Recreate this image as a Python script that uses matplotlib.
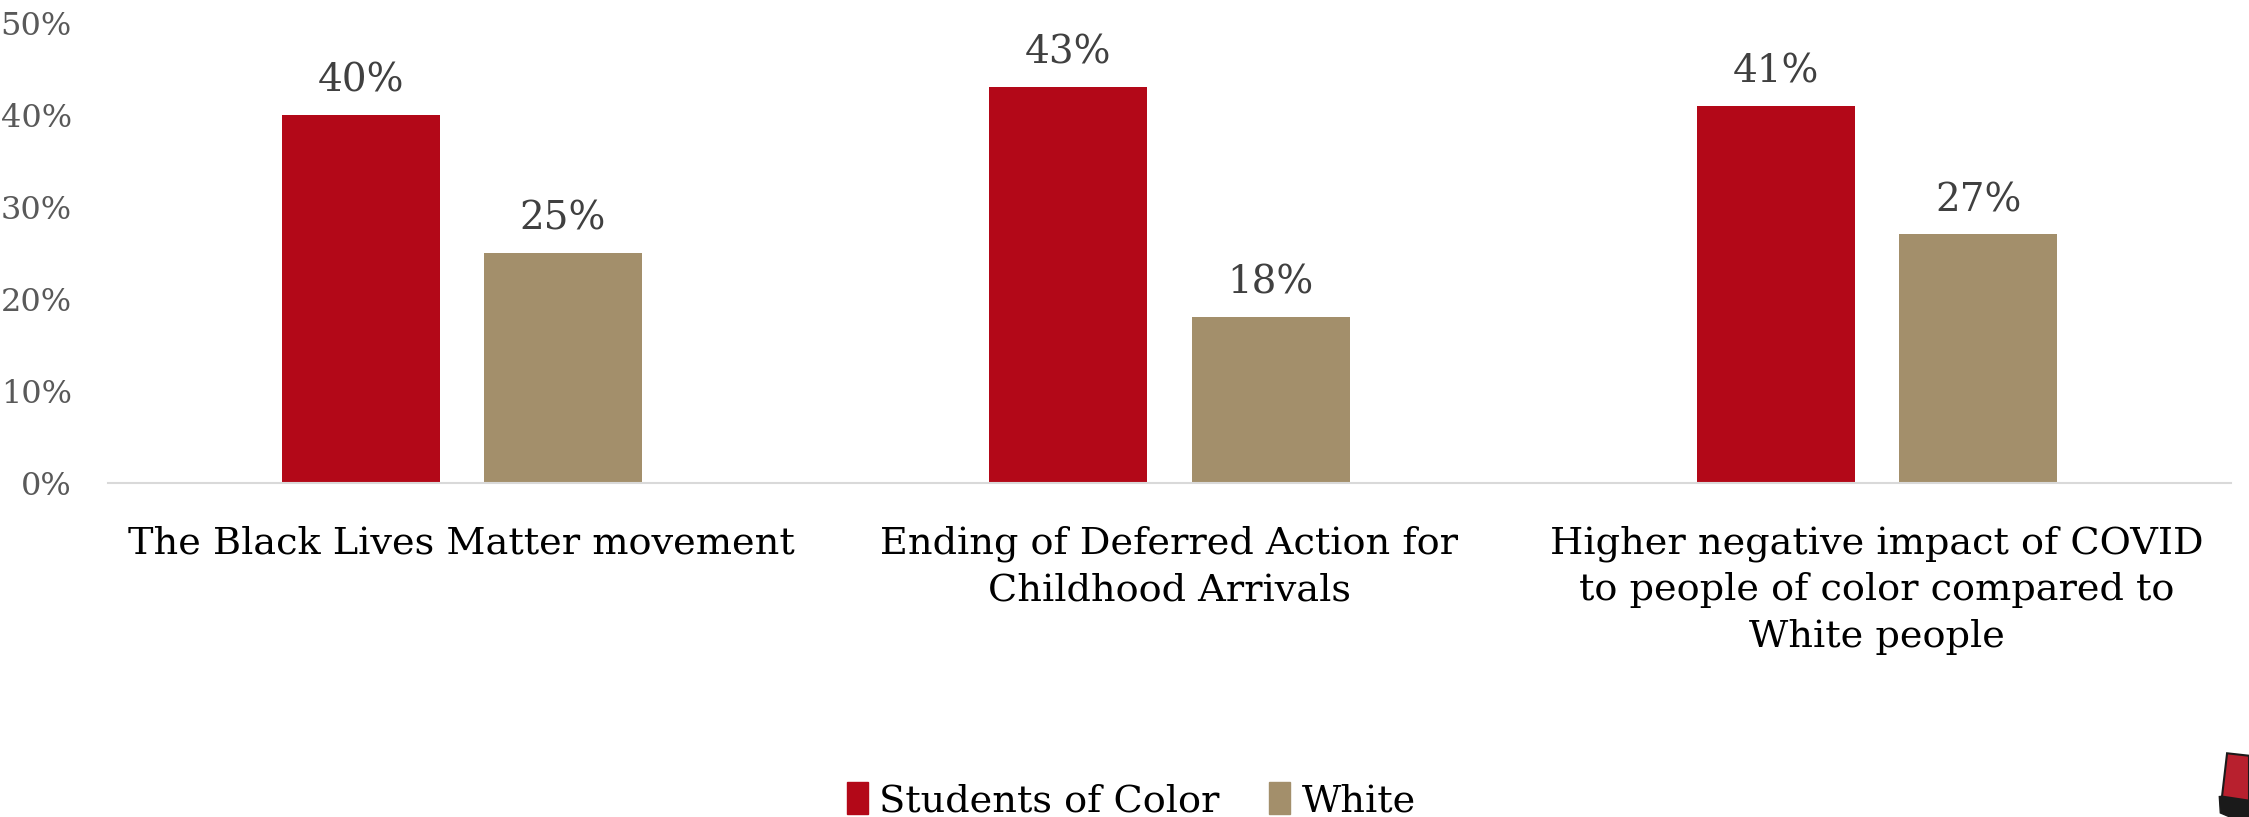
import matplotlib
matplotlib.use("Agg")
import matplotlib.pyplot as plt
import matplotlib.patches as mpatches
from matplotlib.ticker import FuncFormatter, MultipleLocator
import numpy as np

categories = [
    "The Black Lives Matter movement",
    "Ending of Deferred Action for\nChildhood Arrivals",
    "Higher negative impact of COVID\nto people of color compared to\nWhite people",
]
students_of_color = [40, 43, 41]
white = [25, 18, 27]
series_names = ["Students of Color", "White"]
colors = ["#B30818", "#A38F6B"]

plt.rcParams["font.family"] = ["DejaVu Serif"]

fig = plt.figure(figsize=(22.49, 8.17), dpi=100)
ax = fig.add_axes([0.048, 0.409, 0.944, 0.563])

x = np.arange(len(categories))
bw = 0.223
off = 0.143
bars1 = ax.bar(x - off, students_of_color, bw, color=colors[0], label=series_names[0])
bars2 = ax.bar(x + off, white, bw, color=colors[1], label=series_names[1])

for bars in (bars1, bars2):
    for b in bars:
        ax.annotate(f"{b.get_height():.0f}%",
                    (b.get_x() + b.get_width() / 2, b.get_height()),
                    xytext=(0, 11), textcoords="offset points",
                    ha="center", va="bottom", fontsize=28, color="#404040")

ax.set_xlim(-0.5, len(categories) - 0.5)
ax.set_ylim(0, 50)
ax.yaxis.set_major_locator(MultipleLocator(10))
ax.yaxis.set_major_formatter(FuncFormatter(lambda v, p: f"{v:.0f}%"))
ax.tick_params(axis="y", length=0, labelsize=23, labelcolor="#595959", pad=26)
ax.set_xticks(x)
ax.set_xticklabels(categories, fontsize=27.5, color="black", linespacing=1.36)
ax.tick_params(axis="x", length=0, pad=31)

for s in ("top", "right", "left"):
    ax.spines[s].set_visible(False)
ax.spines["bottom"].set_color("#D9D9D9")
ax.spines["bottom"].set_linewidth(1.5)

handles = [mpatches.Patch(color=c, label=n) for c, n in zip(colors, series_names)]
fig.legend(handles=handles, loc="center", bbox_to_anchor=(0.503, 0.02),
           ncol=2, frameon=False, fontsize=27.5, handlelength=0.55, handleheight=0.9,
           handletextpad=0.3, columnspacing=1.3, borderaxespad=0)

# corner emblem
logo = fig.add_axes([0.985, 0.0, 0.015, 0.1])
logo.set_xlim(0, 1)
logo.set_ylim(0, 1)
logo.axis("off")
logo.add_patch(mpatches.Polygon([[0.15, 0.05], [1.0, -0.1], [1.0, 0.3], [0.12, 0.25]],
                                closed=True, color="#1A1A1A"))
logo.add_patch(mpatches.Polygon([[0.2, 0.25], [1.0, 0.2], [1.0, 0.75], [0.35, 0.78]],
                                closed=True, facecolor="#B8202E", edgecolor="#1A1A1A", lw=1.5))

fig.savefig("out.png", dpi=100)
